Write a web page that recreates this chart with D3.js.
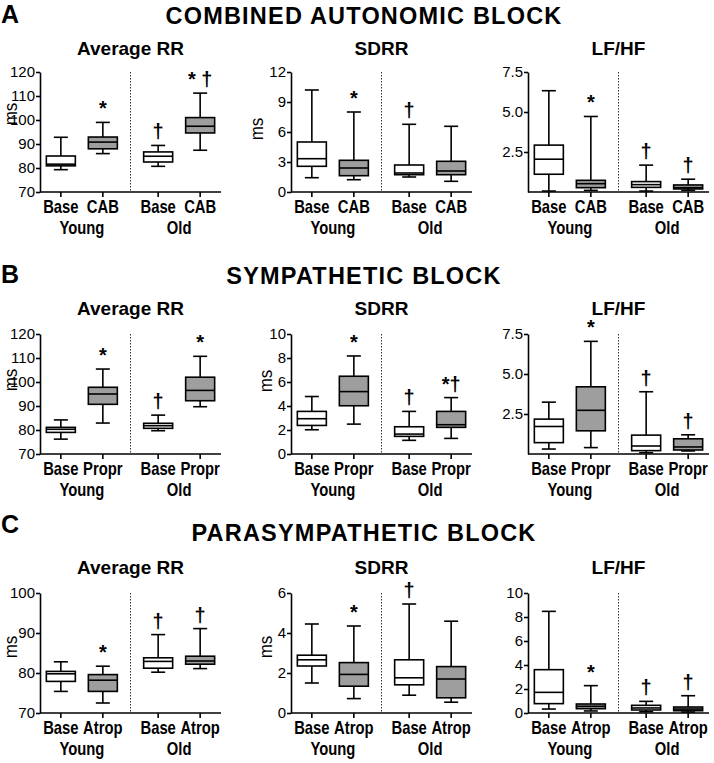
<!DOCTYPE html>
<html>
<head>
<meta charset="utf-8">
<script src="https://cdn.jsdelivr.net/npm/d3@7"></script>
<style>
  body { margin: 0; background: #fff; }
  text { font-family: "Liberation Sans", Arial, sans-serif; fill: #000; }
</style>
</head>
<body>
<svg id="chart" width="714" height="763"></svg>
<script>
'use strict';

// ---- data ----
var blockLetters = ["A", "B", "C"];
var blockTitles = ["COMBINED AUTONOMIC BLOCK", "SYMPATHETIC BLOCK", "PARASYMPATHETIC BLOCK"];
var treatments = ["CAB", "Propr", "Atrop"];
var measures = ["Average RR", "SDRR", "LF/HF"];
var groups = ["Young", "Old"];

// each box: [whisker low, q1, median, q3, whisker high]
// order: Base Young, Treatment Young, Base Old, Treatment Old
var cabRR   = [[79.3, 80.9, 81.6, 85.0, 92.8], [86.0, 88.0, 90.8, 92.9, 99.0], [80.7, 82.5, 84.9, 86.7, 89.4], [87.4, 94.6, 97.4, 101.0, 111.2]];
var cabSDRR = [[1.43, 2.57, 3.33, 5.0, 10.2], [1.23, 1.63, 2.4, 3.17, 8.0], [1.5, 1.73, 1.9, 2.7, 6.77], [1.07, 1.73, 2.1, 3.07, 6.57]];
var cabLFHF = [[0.06, 1.11, 2.05, 2.93, 6.33], [0.1, 0.27, 0.52, 0.73, 4.72], [0.06, 0.29, 0.46, 0.65, 1.68], [0.1, 0.19, 0.27, 0.44, 0.8]];

var propRR   = [[76.2, 79.0, 80.3, 81.1, 84.2], [82.9, 90.7, 95.0, 97.8, 105.4], [79.7, 80.7, 81.8, 82.8, 86.2], [89.7, 92.2, 96.5, 102.0, 110.7]];
var propSDRR = [[2.02, 2.38, 2.94, 3.55, 4.79], [2.49, 4.02, 5.2, 6.48, 8.17], [1.14, 1.47, 1.66, 2.27, 3.55], [1.3, 2.22, 2.44, 3.55, 4.7]];
var propLFHF = [[0.31, 0.71, 1.72, 2.18, 3.24], [0.4, 1.45, 2.73, 4.2, 7.04], [0.08, 0.21, 0.5, 1.18, 3.89], [0.19, 0.25, 0.44, 0.95, 1.2]];

var atroRR   = [[75.4, 77.9, 79.8, 80.4, 82.8], [72.5, 75.4, 78.2, 79.6, 81.7], [80.2, 81.2, 82.9, 83.8, 89.6], [81.1, 82.2, 83.0, 84.2, 91.1]];
var atroSDRR = [[1.5, 2.35, 2.66, 2.89, 4.45], [0.72, 1.34, 1.93, 2.52, 4.35], [0.89, 1.41, 1.76, 2.66, 5.45], [0.54, 0.76, 1.7, 2.32, 4.59]];
var atroLFHF = [[0.33, 0.78, 1.72, 3.61, 8.47], [0.17, 0.36, 0.56, 0.75, 2.28], [0.11, 0.25, 0.42, 0.64, 0.97], [0.08, 0.19, 0.33, 0.5, 1.44]];

// significance marks above each box
var cabMarks  = [["", "*", "\u2020", "* \u2020"], ["", "*", "\u2020", ""], ["", "*", "\u2020", "\u2020"]];
var propMarks = [["", "*", "\u2020", "*"], ["", "*", "\u2020", "*\u2020"], ["", "*", "\u2020", "\u2020"]];
var atroMarks = [["", "*", "\u2020", "\u2020"], ["", "*", "\u2020", ""], ["", "*", "\u2020", "\u2020"]];

// y ticks
var rrTicksAB   = [70, 80, 90, 100, 110, 120];
var rrTicksC    = [70, 80, 90, 100];
var sdrrTicksA  = [0, 3, 6, 9, 12];
var sdrrTicksB  = [0, 2, 4, 6, 8, 10];
var sdrrTicksC  = [0, 2, 4, 6];
var lfhfTicksAB = [0, 2.5, 5.0, 7.5];
var lfhfTicksC  = [0, 2, 4, 6, 8, 10];

// ---- layout ----
var svg = d3.select("#chart");
var panelX = [40, 291, 528];
var panelW = 181;
var plotH = 120;
var rowTop = [72, 334, 593];
var letterY = [23, 283, 533];
var titleY = [24, 284, 541];
var subY = [55, 315, 574];
var boxW = 29, capW = 14;

var rows = [
    { data: [cabRR, cabSDRR, cabLFHF], marks: cabMarks, treat: treatments[0],
      ticks: [rrTicksAB, sdrrTicksA, lfhfTicksAB], fmt: [null, null, ".1f"], hideZero: [false, false, true],
      msX: [23, 28], msY: [42, 57] },
    { data: [propRR, propSDRR, propLFHF], marks: propMarks, treat: treatments[1],
      ticks: [rrTicksAB, sdrrTicksB, lfhfTicksAB], fmt: [null, null, ".1f"], hideZero: [false, false, true],
      msX: [23, 19], msY: [46, 47] },
    { data: [atroRR, atroSDRR, atroLFHF], marks: atroMarks, treat: treatments[2],
      ticks: [rrTicksC, sdrrTicksC, lfhfTicksC], fmt: [null, null, null], hideZero: [false, false, false],
      msX: [23, 19], msY: [54, 54] }
];

var groupScale = d3.scalePoint().domain(groups).range([0, panelW]).padding(0.43);

function condensed(g, x, y, txt, size, sx) {
    return g.append("text")
        .attr("transform", "translate(" + x + "," + y + ") scale(" + sx + ",1)")
        .attr("text-anchor", "middle")
        .style("font-size", size + "px")
        .style("font-weight", "bold")
        .text(txt);
}

rows.forEach(function(row, r) {
    svg.append("text")
        .attr("x", 1).attr("y", letterY[r])
        .style("font-size", "25px").style("font-weight", "bold")
        .text(blockLetters[r]);

    svg.append("text")
        .attr("x", 364).attr("y", titleY[r])
        .attr("text-anchor", "middle")
        .style("font-size", "23.5px").style("font-weight", "bold")
        .style("letter-spacing", "1.2px")
        .text(blockTitles[r]);

    var conds = ["Base", row.treat];
    var condScale = d3.scalePoint().domain(conds).range([-21, 21]);

    measures.forEach(function(m, p) {
        var ticks = row.ticks[p];
        var g = svg.append("g")
            .attr("transform", "translate(" + panelX[p] + "," + rowTop[r] + ")");

        var y = d3.scaleLinear()
            .domain([ticks[0], ticks[ticks.length - 1]])
            .range([plotH, 0]);

        g.append("text")
            .attr("x", panelW / 2).attr("y", subY[r] - rowTop[r])
            .attr("text-anchor", "middle")
            .style("font-size", "19px").style("font-weight", "bold")
            .text(m);

        // dotted divider between Young and Old
        var mid = (groupScale("Young") + groupScale("Old")) / 2;
        g.append("line")
            .attr("x1", mid).attr("x2", mid)
            .attr("y1", 0).attr("y2", plotH)
            .attr("stroke", "#333")
            .attr("stroke-width", 1)
            .attr("stroke-dasharray", "1.5,1.5");

        // y axis
        var fmt = row.fmt[p] ? d3.format(row.fmt[p]) : d3.format("d");
        var hideZero = row.hideZero[p];
        var yAxis = d3.axisLeft(y)
            .tickValues(ticks)
            .tickSizeInner(4).tickSizeOuter(0).tickPadding(1)
            .tickFormat(function(d) { return (hideZero && d === 0) ? "" : fmt(d); });
        var ya = g.append("g").call(yAxis);
        ya.select(".domain").attr("stroke-width", 1.6);
        ya.selectAll(".tick line").attr("stroke-width", 1.6);
        ya.selectAll(".tick text")
            .style("font-size", "15px")
            .style("font-family", "'Liberation Sans', Arial, sans-serif");
        if (hideZero) ya.selectAll(".tick").filter(function(d) { return d === 0; }).select("line").remove();

        // x axis baseline
        g.append("line")
            .attr("x1", 0).attr("x2", panelW)
            .attr("y1", plotH).attr("y2", plotH)
            .attr("stroke", "#000").attr("stroke-width", 1.6);

        if (p < 2) {
            g.append("text")
                .attr("transform", "translate(" + (-row.msX[p]) + "," + row.msY[p] + ") rotate(-90) scale(0.92,1)")
                .attr("text-anchor", "middle")
                .style("font-size", "18.5px")
                .text("ms");
        }

        var boxes = [];
        groups.forEach(function(gr, gi) {
            conds.forEach(function(c, ci) {
                boxes.push({ group: gr, cond: c, stats: row.data[p][gi * 2 + ci], mark: row.marks[p][gi * 2 + ci], treated: ci === 1 });
            });
        });

        var bx = g.selectAll(".box").data(boxes).enter().append("g")
            .attr("class", "box")
            .attr("transform", function(d) { return "translate(" + (groupScale(d.group) + condScale(d.cond)) + ",0)"; });

        // x tick
        bx.append("line")
            .attr("y1", plotH).attr("y2", plotH + 5)
            .attr("stroke", "#000").attr("stroke-width", 1.6);

        // whisker
        bx.append("line")
            .attr("y1", function(d) { return y(d.stats[0]); })
            .attr("y2", function(d) { return y(d.stats[4]); })
            .attr("stroke", "#000").attr("stroke-width", 1.6);
        [0, 4].forEach(function(k) {
            bx.append("line")
                .attr("x1", -capW / 2).attr("x2", capW / 2)
                .attr("y1", function(d) { return y(d.stats[k]); })
                .attr("y2", function(d) { return y(d.stats[k]); })
                .attr("stroke", "#000").attr("stroke-width", 1.6);
        });
        bx.append("rect")
            .attr("x", -boxW / 2).attr("width", boxW)
            .attr("y", function(d) { return y(d.stats[3]); })
            .attr("height", function(d) { return y(d.stats[1]) - y(d.stats[3]); })
            .attr("fill", function(d) { return d.treated ? "#9e9e9e" : "#fff"; })
            .attr("stroke", "#000").attr("stroke-width", 1.6);
        bx.append("line")
            .attr("x1", -boxW / 2).attr("x2", boxW / 2)
            .attr("y1", function(d) { return y(d.stats[2]); })
            .attr("y2", function(d) { return y(d.stats[2]); })
            .attr("stroke", "#000").attr("stroke-width", 1.6);

        bx.append("text")
            .attr("y", function(d) { return y(d.stats[4]) - 7; })
            .attr("text-anchor", "middle")
            .style("font-size", "20px").style("font-weight", "bold")
            .text(function(d) { return d.mark; });

        // condition and group labels
        boxes.forEach(function(d) {
            condensed(g, groupScale(d.group) + condScale(d.cond), plotH + 21, d.cond, 18.5, 0.8);
        });
        groups.forEach(function(gr) {
            condensed(g, groupScale(gr), plotH + 42, gr, 18.5, 0.8);
        });
    });
});
</script>
</body>
</html>
